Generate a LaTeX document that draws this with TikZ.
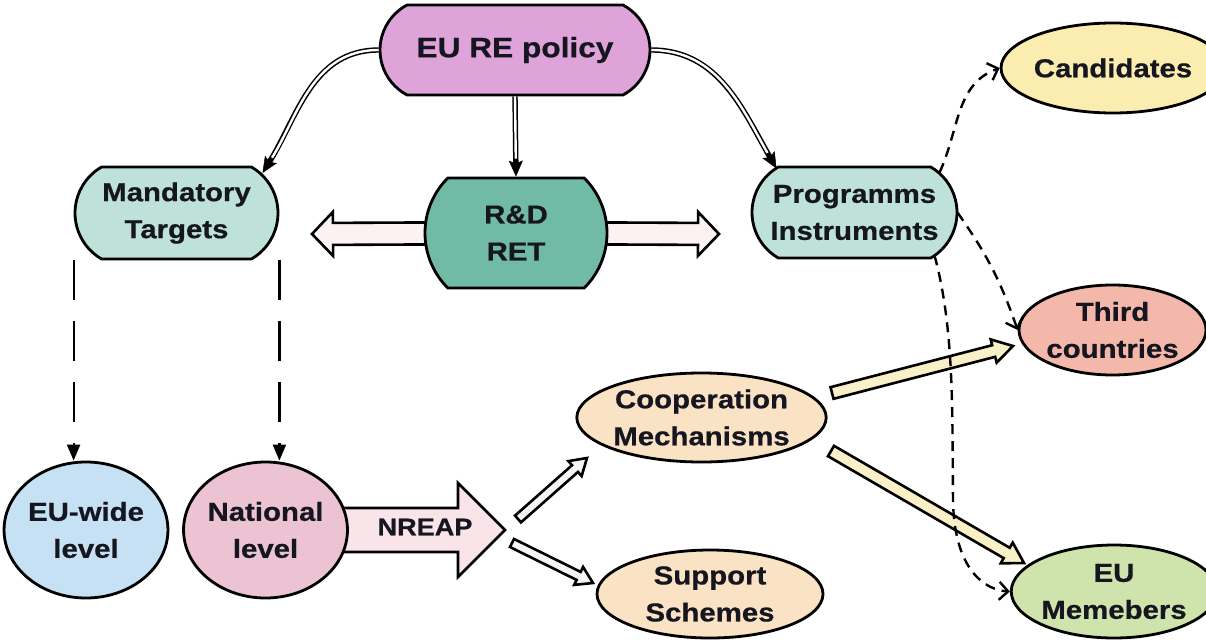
\documentclass[tikz,border=0pt]{standalone}
\usepackage{fontspec}
\newfontfamily\lblfont{Liberation Sans}[FakeStretch=1.13, BoldFeatures={FakeBold=0.6}]
\usetikzlibrary{shapes.misc,shapes.geometric,arrows.meta,calc,backgrounds}
\definecolor{ink}{RGB}{22,22,32}
\definecolor{cPolicy}{RGB}{222,163,216}
\definecolor{cTeal}{RGB}{190,226,218}
\definecolor{cRD}{RGB}{112,186,166}
\definecolor{cCand}{RGB}{251,236,176}
\definecolor{cThird}{RGB}{243,184,170}
\definecolor{cCoop}{RGB}{250,227,197}
\definecolor{cMemb}{RGB}{206,228,172}
\definecolor{cEUW}{RGB}{199,225,244}
\definecolor{cNat}{RGB}{235,195,210}
\definecolor{cNreap}{RGB}{249,228,234}
\definecolor{cWideArr}{RGB}{252,242,242}
\definecolor{cYellowArr}{RGB}{250,240,200}
\definecolor{cThinArr}{RGB}{247,244,248}
% #1 style, #2 tail coordinate, #3 tip coordinate, #4 shaft half width, #5 head half width, #6 head length
\newcommand\blockarrow[6][]{%
  \coordinate (ba-h) at ($(#3)!#6!(#2)$);
  \path[#1] ($(#2)!#4!90:(#3)$) -- ($(ba-h)!#4!90:(#3)$) -- ($(ba-h)!#5!90:(#3)$)
    -- (#3) -- ($(ba-h)!#5!-90:(#3)$) -- ($(ba-h)!#4!-90:(#3)$) -- ($(#2)!#4!-90:(#3)$) -- cycle;}
\tikzset{
  every node/.style={font=\lblfont\bfseries\fontsize{26}{37}\selectfont, text=ink},
  base/.style={draw=black, line width=2.8pt, align=center, inner sep=0pt},
  stad/.style={base, rounded rectangle, rounded rectangle arc length=120},
  ell/.style={base, ellipse},
  blk/.style={draw=black, line width=2.6pt},
  dblout/.style={draw=black, line width=5.4pt,
    -{Stealth[length=16pt,width=14pt,inset=3pt,line width=0.5pt]}},
  dblin/.style={draw=white, line width=2.4pt, shorten >=18pt},
  longdash/.style={draw=black, line width=2.2pt, dash pattern=on 40pt off 21pt,
    -{Triangle[length=16pt,width=13pt]}},
  shortdash/.style={draw=black, line width=2.4pt, dash pattern=on 10pt off 7pt,
    -{Straight Barb[length=9pt,width=18pt]}}
}
\begin{document}
\begin{tikzpicture}[x=1pt,y=-1pt]
\useasboundingbox (0,0) rectangle (1206,642);
% nodes
\node[stad, fill=cPolicy, minimum width=270pt, minimum height=90pt, rounded rectangle arc length=124,
      font=\lblfont\bfseries\fontsize{28}{34}\selectfont] (pol) at (515,50) {EU RE policy};
\node[stad, fill=cTeal, minimum width=203pt, minimum height=92pt] (mand) at (176.5,213) {Mandatory\\Targets};
\node[stad, fill=cRD, minimum width=182pt, minimum height=110pt, rounded rectangle arc length=90] (rd) at (516,233) {R\&D\\RET};
\node[stad, fill=cTeal, minimum width=205pt, minimum height=91pt] (prog) at (854.5,212.5) {Programms\\Instruments};
\node[ell, fill=cCand, minimum width=180pt, minimum height=90pt] (cand) at (1113,68) {Candidates};
\node[ell, fill=cThird, minimum width=185pt, minimum height=90pt] (third) at (1112.5,330) {Third\\countries};
\node[ell, fill=cCoop, minimum width=227pt, minimum height=89pt] (coop) at (701.5,417.5) {Cooperation\\Mechanisms};
\node[ell, fill=cCoop, minimum width=226pt, minimum height=88pt] (supp) at (710,594) {Support\\Schemes};
\node[ell, fill=cMemb, minimum width=182pt, minimum height=93pt] (memb) at (1114,591.5) {EU\\Memebers};
\node[ell, fill=cEUW, minimum width=162pt, minimum height=136pt] (euw) at (86,530) {EU-wide\\level};
\node[ell, fill=cNat, minimum width=155pt, minimum height=136pt] (nat) at (265.5,530) {National\\level};
\node[font=\lblfont\bfseries\fontsize{24}{28}\selectfont] (nreap) at (425,527) {NREAP};
% helper coordinates
\coordinate (rdL) at (312,234);
\coordinate (rdR) at (719,234);
\coordinate (nreapTip) at (505,530);
\coordinate (a1tail) at (518,519);
\coordinate (a1tip) at (587,458);
\coordinate (a2tail) at (512,543);
\coordinate (a2tip) at (593,583);
\coordinate (y1tail) at (832,393);
\coordinate (y1tip) at (1013,346);
\coordinate (y2tail) at (831,451);
\coordinate (y2tip) at (1024,563);
\coordinate (mandIn) at ($(mand)+(86,-40)$);
\coordinate (progIn) at ($(prog)+(-78,-44)$);
% block arrows behind nodes
\begin{pgfonlayer}{background}
\blockarrow[blk, fill=cWideArr]{rd.center}{rdL}{11pt}{22pt}{21pt}
\blockarrow[blk, fill=cWideArr]{rd.center}{rdR}{11pt}{22pt}{21pt}
\blockarrow[blk, fill=cNreap]{nat.center}{nreapTip}{22pt}{47pt}{47pt}
\blockarrow[blk, fill=cThinArr]{a1tail}{a1tip}{4.5pt}{10pt}{16pt}
\blockarrow[blk, fill=cThinArr]{a2tail}{a2tip}{4.5pt}{10pt}{16pt}
\blockarrow[blk, fill=cYellowArr]{y1tail}{y1tip}{6pt}{12pt}{20pt}
\blockarrow[blk, fill=cYellowArr]{y2tail}{y2tip}{6pt}{12pt}{20pt}
\end{pgfonlayer}
% double-line arrows from the policy (outer black line, then white core)
\draw[dblout] (pol.west) to[out=180, in=58] (mandIn);
\draw[dblin] (pol.west) to[out=180, in=58] (mandIn);
\draw[dblout] (pol.south) -- (rd.north);
\draw[dblin] (pol.south) -- (rd.north);
\draw[dblout] (pol.east) to[out=0, in=120] (progIn);
\draw[dblin] (pol.east) to[out=0, in=120] (progIn);
% long dashed arrows
\draw[longdash] (mand.west |- mand.south) -- (mand.west |- euw.north);
\draw[longdash] (mand.east |- mand.south) -- (mand.east |- nat.north);
% short dashed curves
\draw[shortdash] ($(prog)+(85,-40)$) to[out=65, in=200] (cand.west);
\draw[shortdash] ($(prog)+(103,0)$) to[bend left=8] (third.west);
\draw[shortdash] ($(prog)+(80,43)$) .. controls (955,330) and (952,420) .. (953,500)
  .. controls (954,570) and (985,590) .. (memb.west);
\end{tikzpicture}
\end{document}
